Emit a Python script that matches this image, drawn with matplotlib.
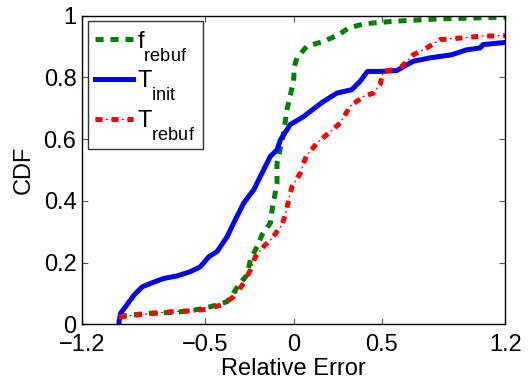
import matplotlib
matplotlib.use("Agg")
import matplotlib.pyplot as plt
import matplotlib._mathtext as mathtext_internal

plt.rcParams["font.family"] = ["Liberation Sans", "DejaVu Sans"]
plt.rcParams["mathtext.default"] = "regular"
plt.rcParams["lines.scale_dashes"] = False
# legend subscripts in the original are big and sit low
mathtext_internal.SHRINK_FACTOR = 0.77
mathtext_internal.FontConstantsBase.sub1 = 1.0

# f_rebuf (green dashed)
f_rebuf_x = [-0.99, -0.924, -0.83, -0.68, -0.585, -0.51, -0.434, -0.377, -0.349, -0.311,
             -0.264, -0.245, -0.207, -0.179, -0.132, -0.122, -0.094, -0.094, -0.079, -0.057,
             -0.037, -0.019, 0.0, 0.004, 0.019, 0.076, 0.17, 0.255, 0.311, 0.396,
             0.49, 0.642, 0.83, 1.019, 1.2]
f_rebuf_y = [0.025, 0.03, 0.036, 0.039, 0.044, 0.052, 0.063, 0.074, 0.095, 0.128,
             0.16, 0.209, 0.252, 0.29, 0.328, 0.371, 0.457, 0.522, 0.56, 0.619,
             0.697, 0.741, 0.787, 0.835, 0.863, 0.901, 0.916, 0.938, 0.959, 0.973,
             0.978, 0.984, 0.989, 0.992, 0.995]

# T_init (blue solid)
t_init_x = [-0.99, -0.99, -0.981, -0.905, -0.858, -0.811, -0.736, -0.66, -0.585, -0.528,
            -0.481, -0.434, -0.377, -0.34, -0.283, -0.226, -0.179, -0.132, -0.094, -0.075,
            -0.019, 0.057, 0.132, 0.17, 0.246, 0.33, 0.377, 0.419, 0.49, 0.585,
            0.679, 0.774, 0.896, 0.981, 1.057, 1.075, 1.2]
t_init_y = [0.0, 0.009, 0.036, 0.095, 0.122, 0.133, 0.149, 0.157, 0.171, 0.187,
            0.219, 0.236, 0.284, 0.328, 0.393, 0.436, 0.49, 0.544, 0.565, 0.597,
            0.647, 0.673, 0.706, 0.722, 0.749, 0.76, 0.787, 0.819, 0.819, 0.822,
            0.852, 0.863, 0.873, 0.889, 0.895, 0.906, 0.913]

# T_rebuf (red dash-dot)
t_rebuf_x = [-0.99, -0.83, -0.698, -0.585, -0.49, -0.396, -0.34, -0.283, -0.245, -0.217,
             -0.179, -0.122, -0.066, -0.047, -0.028, -0.009, 0.038, 0.071, 0.132, 0.198,
             0.264, 0.321, 0.396, 0.453, 0.49, 0.509, 0.566, 0.613, 0.679, 0.755,
             0.83, 0.943, 1.057, 1.2]
t_rebuf_y = [0.025, 0.034, 0.041, 0.044, 0.049, 0.066, 0.09, 0.133, 0.176, 0.219,
             0.247, 0.279, 0.322, 0.355, 0.403, 0.446, 0.49, 0.544, 0.587, 0.619,
             0.652, 0.706, 0.738, 0.749, 0.776, 0.819, 0.825, 0.835, 0.873, 0.895,
             0.922, 0.927, 0.933, 0.935]

x_ticks = [-1.2, -0.5, 0, 0.5, 1.2]
x_tick_labels = ["\u22121.2", "\u22120.5", "0", "0.5", "1.2"]
y_ticks = [0, 0.2, 0.4, 0.6, 0.8, 1]
y_tick_labels = ["0", "0.2", "0.4", "0.6", "0.8", "1"]

fig = plt.figure(figsize=(5.29, 3.79), dpi=100)
ax = fig.add_axes([0.155, 0.144, 0.800, 0.815])

green_line, = ax.plot(f_rebuf_x, f_rebuf_y, color=(0, 0.5, 0),
                      linestyle=(0, (5.8, 5.0)), linewidth=3.6)
blue_line, = ax.plot(t_init_x, t_init_y, color="blue", linestyle="-", linewidth=3.6)
# dash-dot: thick dashes with thin dots in between
red_thick, = ax.plot(t_rebuf_x, t_rebuf_y, color="red",
                     linestyle=(0, (5.0, 6.5)), linewidth=3.6)
red_thin, = ax.plot(t_rebuf_x, t_rebuf_y, color="red",
                    linestyle=(0, (5.0, 2.5, 1.5, 2.5)), linewidth=0.9)

ax.set_xlim(-1.2, 1.2)
ax.set_ylim(0, 1)
ax.set_xticks(x_ticks)
ax.set_xticklabels(x_tick_labels)
ax.set_yticks(y_ticks)
ax.set_yticklabels(y_tick_labels)
ax.tick_params(direction="in", length=4, width=0.8, color="#555555",
               top=True, right=True, labelsize=17, pad=4)
ax.tick_params(axis="x", pad=7)
for spine in ax.spines.values():
    spine.set_linewidth(1)

ax.set_xlabel("Relative Error", fontsize=17, labelpad=1)
ax.set_ylabel("CDF", fontsize=17, labelpad=6)

leg = ax.legend([green_line, blue_line, (red_thick, red_thin)],
                ["f$_{rebuf}$", "T$_{init}$", "T$_{rebuf}$"],
                loc="upper left", fontsize=17, frameon=True, fancybox=False,
                edgecolor="black", borderaxespad=0.25, handlelength=1.6,
                handletextpad=0.2, labelspacing=0.25, borderpad=0.3)
leg.get_frame().set_linewidth(1)

fig.savefig("out.png", dpi=100)
